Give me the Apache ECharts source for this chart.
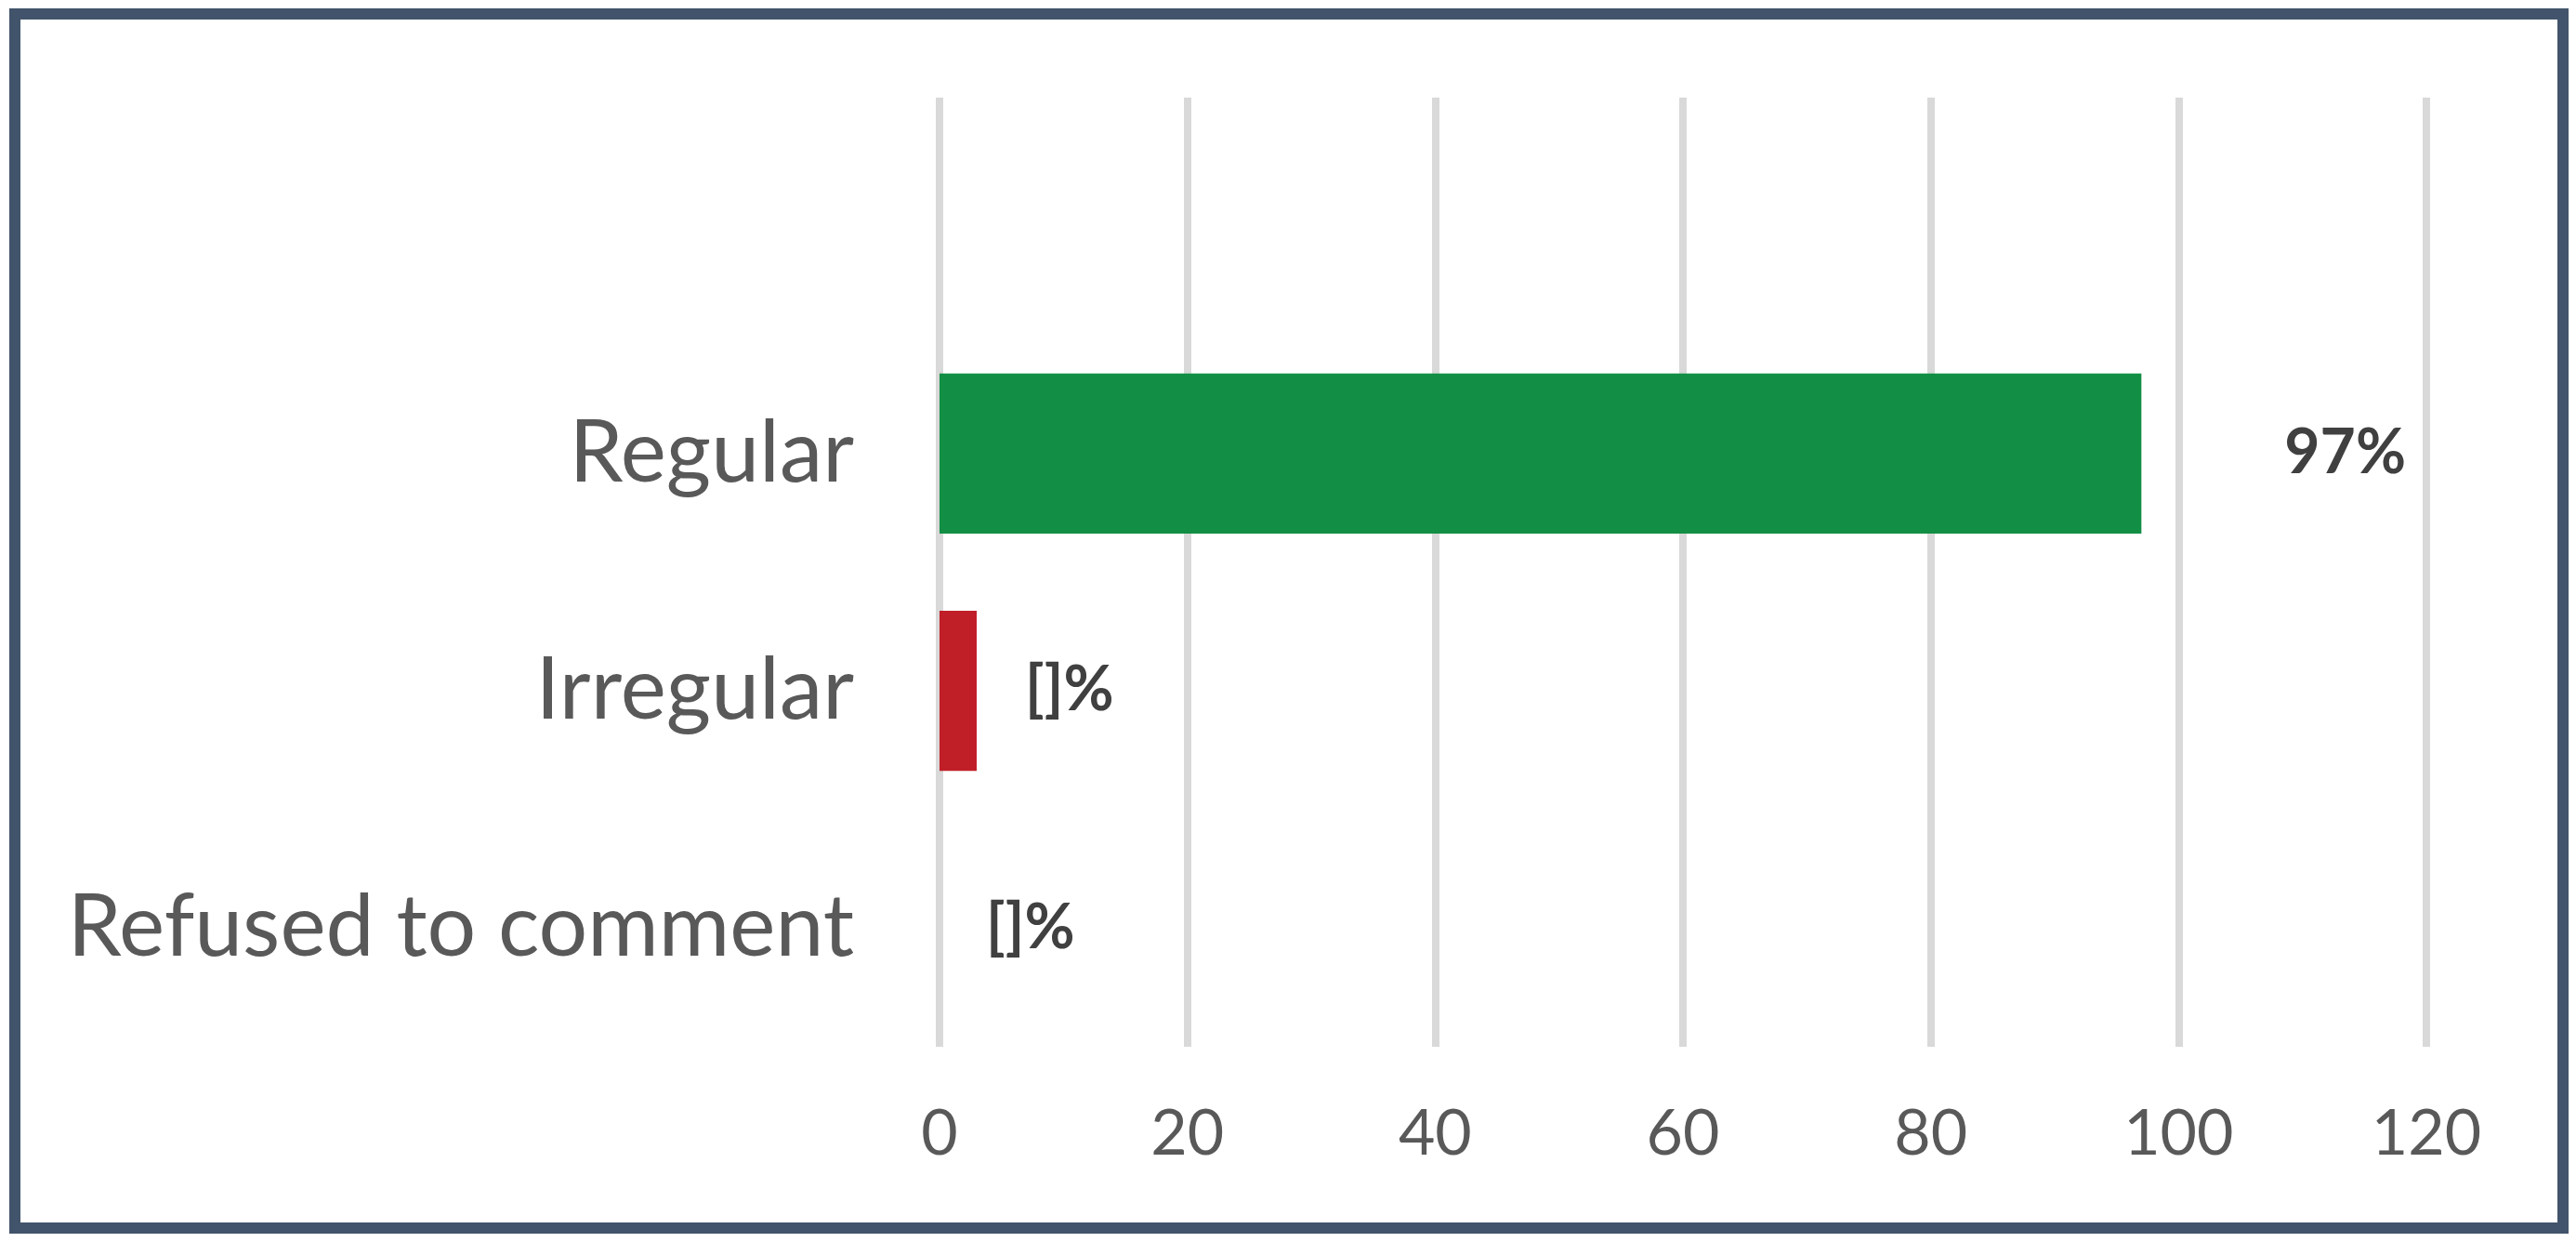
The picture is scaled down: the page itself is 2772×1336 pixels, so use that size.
<!DOCTYPE html>
<html>
<head>
<meta charset="utf-8">
<title>Regular vs Irregular</title>
<script src="https://cdn.jsdelivr.net/npm/echarts@6/dist/echarts.min.js"></script>
<style>
  html, body { margin: 0; padding: 0; background: #fff; }
  #chart { width: 2772px; height: 1336px; }
</style>
</head>
<body>
<div id="chart"></div>
<script>
// first slot is empty in the original chart
const categories = ['', 'Regular', 'Irregular', 'Refused to comment']
const values = [null, 97, 3, 0]
const valueLabels = ['', '97%', '[]%', '[]%']
const barColors = ['#128F45', '#128F45', '#C01F28', '#C01F28']
const labelDistance = [52, 154, 52, 50]
const axisMin = 0
const axisMax = 120
const axisStep = 20

const fontFamily = 'Lato, "Open Sans", sans-serif'

const chart = echarts.init(document.getElementById('chart'))

chart.setOption({
  animation: false,
  grid: {
    left: 1011,
    right: 161,
    top: 105,
    bottom: 210
  },
  xAxis: {
    type: 'value',
    min: axisMin,
    max: axisMax,
    interval: axisStep,
    axisLine: { show: false },
    axisTick: { show: false },
    splitLine: {
      show: true,
      lineStyle: { color: '#D9D9D9', width: 8 }
    },
    axisLabel: {
      margin: 60,
      fontFamily,
      fontSize: 68,
      color: '#595959'
    }
  },
  yAxis: {
    type: 'category',
    inverse: true,
    data: categories,
    axisLine: { show: false },
    axisTick: { show: false },
    splitLine: { show: false },
    axisLabel: {
      margin: 92,
      fontFamily,
      fontSize: 93,
      color: '#595959'
    }
  },
  series: [
    {
      type: 'bar',
      barCategoryGap: '32.5%',
      data: values.map((v, i) => ({
        value: v,
        itemStyle: { color: barColors[i] },
        label: { distance: labelDistance[i] }
      })),
      label: {
        show: true,
        position: 'right',
        fontFamily,
        fontSize: 66,
        fontWeight: 'bold',
        color: '#404040',
        formatter: p => valueLabels[p.dataIndex]
      }
    }
  ],
  graphic: [
    {
      type: 'rect',
      shape: { x: 16, y: 15, width: 2742, height: 1306 },
      style: { fill: 'none', stroke: '#42546B', lineWidth: 12 },
      silent: true
    }
  ]
})
</script>
</body>
</html>
